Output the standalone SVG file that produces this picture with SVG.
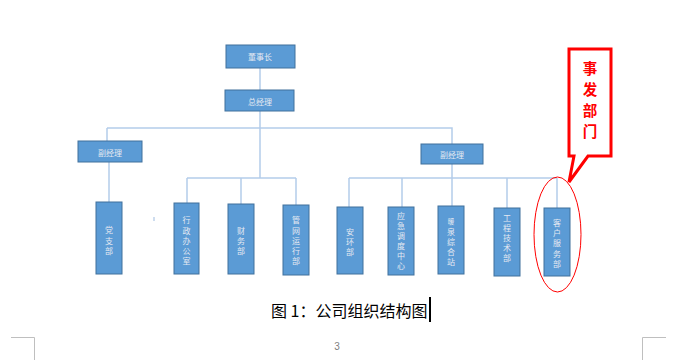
<svg xmlns="http://www.w3.org/2000/svg" width="674" height="360" viewBox="0 0 674 360">
<style>
.box{fill:#5B9BD5;stroke:#41719C;stroke-width:1}
.t{font-family:"Noto Sans CJK SC","Noto Sans",sans-serif;font-size:8px;fill:#E4E9F2;text-anchor:middle;dominant-baseline:central}
.ln{stroke:#B4CDEA;stroke-width:1.5;fill:none}
.pg{stroke:#BFBFBF;stroke-width:1;fill:none}
</style>
<rect width="674" height="360" fill="#FFFFFF"/>
<g id="connectors">
<path class="ln" d="M260 68V90M260 111V178M107 128H452V144M107 128V141M109 162V202M187 178H296M187 178V203M241 178V204M296 178V205M452 164V178M349 178H557M349 178V207M402 178V207M452 178V206M507 178V208M557 178V208"/>
</g>
<g id="n-chair"><rect class="box" x="226" y="45" width="69" height="23"/><text class="t" x="260" y="56">董事长</text></g>
<g id="n-gm"><rect class="box" x="225" y="90" width="69" height="21"/><text class="t" x="260" y="101">总经理</text></g>
<g id="n-vp1"><rect class="box" x="78" y="141" width="64" height="21"/><text class="t" x="110" y="152">副经理</text></g>
<g id="n-vp2"><rect class="box" x="421" y="144" width="62" height="20"/><text class="t" x="452" y="154">副经理</text></g>
<g id="n-party"><rect class="box" x="96" y="202" width="26" height="72"/><text class="t" x="109" y="229">党</text><text class="t" x="109" y="240">支</text><text class="t" x="109" y="250">部</text></g>
<g id="n-admin"><rect class="box" x="174" y="203" width="25" height="71"/><text class="t" x="186.5" y="219">行</text><text class="t" x="186.5" y="230">政</text><text class="t" x="186.5" y="240">办</text><text class="t" x="186.5" y="250">公</text><text class="t" x="186.5" y="260">室</text></g>
<g id="n-finance"><rect class="box" x="228" y="204" width="26" height="70"/><text class="t" x="241" y="230">财</text><text class="t" x="241" y="240">务</text><text class="t" x="241" y="250">部</text></g>
<g id="n-pipe"><rect class="box" x="283" y="205" width="26" height="70"/><text class="t" x="296" y="219">管</text><text class="t" x="296" y="230">网</text><text class="t" x="296" y="240">运</text><text class="t" x="296" y="250">行</text><text class="t" x="296" y="260">部</text></g>
<g id="n-safety"><rect class="box" x="337" y="207" width="26" height="67"/><text class="t" x="350" y="231">安</text><text class="t" x="350" y="241">环</text><text class="t" x="350" y="251">部</text></g>
<g id="n-emergency"><rect class="box" x="388" y="207" width="26" height="68"/><text class="t" x="401" y="215">应</text><text class="t" x="401" y="225">急</text><text class="t" x="401" y="235">调</text><text class="t" x="401" y="245">度</text><text class="t" x="401" y="255">中</text><text class="t" x="401" y="265">心</text></g>
<g id="n-station"><rect class="box" x="438" y="206" width="26" height="68"/><text class="t" x="451" y="221" style="font-size:6.5px">暖</text><text class="t" x="451" y="231">泉</text><text class="t" x="451" y="241">综</text><text class="t" x="451" y="251">合</text><text class="t" x="451" y="261">站</text></g>
<g id="n-eng"><rect class="box" x="494" y="208" width="26" height="68"/><text class="t" x="507" y="217">工</text><text class="t" x="507" y="227">程</text><text class="t" x="507" y="237">技</text><text class="t" x="507" y="247">术</text><text class="t" x="507" y="257">部</text></g>
<g id="n-service"><rect class="box" x="544" y="208" width="26" height="68"/><text class="t" x="557" y="222">客</text><text class="t" x="557" y="232">户</text><text class="t" x="557" y="242">服</text><text class="t" x="557" y="253">务</text><text class="t" x="557" y="263">部</text></g>
<g id="highlight">
<ellipse cx="557.5" cy="234.5" rx="23.5" ry="57.5" fill="none" stroke="#FF0000" stroke-width="1"/>
<path d="M569 49H611V156H588L569 182L574 156H569Z" fill="#FFFFFF" stroke="#FF0000" stroke-width="3" stroke-linejoin="miter"/>
<g style="font-family:'Noto Sans CJK SC',sans-serif;font-size:14.5px;font-weight:bold;fill:#FF0000;text-anchor:middle;dominant-baseline:central">
<text x="590" y="67">事</text><text x="590" y="88">发</text><text x="590" y="109">部</text><text x="590" y="130">门</text>
</g>
</g>
<rect x="153.5" y="217" width="1" height="4" fill="#9DBCE0"/>
<text x="271" y="317" style="font-family:'Noto Sans CJK SC',sans-serif;font-size:16px;fill:#000000">图 1：公司组织结构图</text>
<rect x="429" y="297" width="2" height="25" fill="#000000"/>
<path class="pg" d="M11 337.5H34.5V360M666 337.5H642.5V360"/>
<text x="337" y="346" style="font-family:'Liberation Sans',sans-serif;font-size:10px;fill:#7F7F7F;text-anchor:middle;dominant-baseline:central">3</text>
</svg>
